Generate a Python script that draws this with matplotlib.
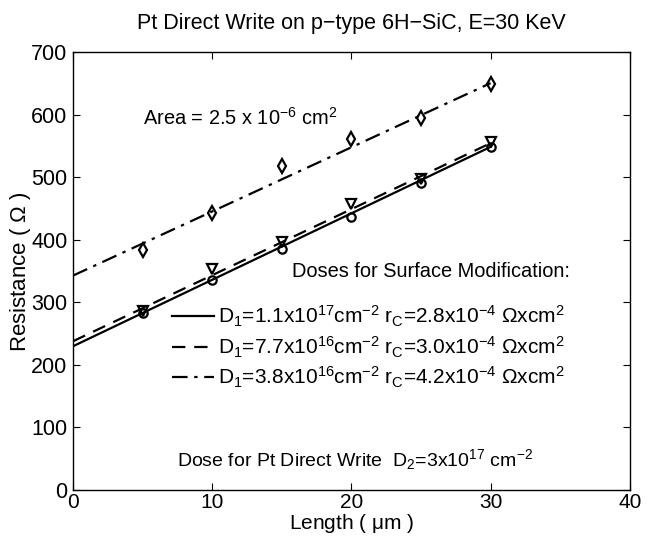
import matplotlib
matplotlib.use("Agg")
import matplotlib.pyplot as plt

# --- Data ---
LENGTH = [5, 10, 15, 20, 25, 30]
R_DOSE_HIGH = [283, 336, 386, 437, 491, 548]   # circles, D1=1.1e17
R_DOSE_MID = [286, 354, 397, 457, 498, 556]    # triangles, D1=7.7e16
R_DOSE_LOW = [384, 443, 518, 562, 595, 650]    # diamonds, D1=3.8e16

FIT_X = [0, 30]
FIT_HIGH = [230, 549]
FIT_MID = [238, 555]
FIT_LOW = [343, 651]

LABELS = [
    r"$\mathrm{D_1}$=1.1x10$^{17}$cm$^{-2}$ $\mathrm{r_C}$=2.8x10$^{-4}$ $\Omega$xcm$^2$",
    r"$\mathrm{D_1}$=7.7x10$^{16}$cm$^{-2}$ $\mathrm{r_C}$=3.0x10$^{-4}$ $\Omega$xcm$^2$",
    r"$\mathrm{D_1}$=3.8x10$^{16}$cm$^{-2}$ $\mathrm{r_C}$=4.2x10$^{-4}$ $\Omega$xcm$^2$",
]

plt.rcParams['font.family'] = ['Liberation Sans', 'DejaVu Sans']
plt.rcParams['mathtext.fontset'] = 'custom'
plt.rcParams['mathtext.rm'] = 'Liberation Sans'
plt.rcParams['mathtext.it'] = 'Liberation Sans:italic'
plt.rcParams['mathtext.default'] = 'regular'

fig = plt.figure(figsize=(6.48, 5.41), dpi=100)
ax = fig.add_axes([0.1127, 0.0943, 0.8593, 0.8087])

lw = 1.6
ax.plot(FIT_X, FIT_HIGH, color='black', linestyle='-', linewidth=lw, label=LABELS[0])
ax.plot(FIT_X, FIT_MID, color='black', linestyle=(0, (6, 4)), linewidth=lw, label=LABELS[1])
ax.plot(FIT_X, FIT_LOW, color='black', linestyle=(0, (7, 3, 1.5, 3)), linewidth=lw, label=LABELS[2])

ax.plot(LENGTH, R_DOSE_HIGH, linestyle='none', marker='o', markersize=6,
        markerfacecolor='none', markeredgecolor='black', markeredgewidth=1.6)
ax.plot(LENGTH, R_DOSE_MID, linestyle='none', marker='v', markersize=7,
        markerfacecolor='none', markeredgecolor='black', markeredgewidth=1.6)
ax.plot(LENGTH, R_DOSE_LOW, linestyle='none', marker='d', markersize=7,
        markerfacecolor='none', markeredgecolor='black', markeredgewidth=1.6)

ax.set_xlim(0, 40)
ax.set_ylim(0, 700)
ax.set_xticks(range(0, 41, 10))
ax.set_yticks(range(0, 701, 100))
ax.tick_params(direction='in', top=True, right=True, labelsize=15.5, length=5)
ax.tick_params(axis='x', pad=2, labelsize=15)
ax.tick_params(axis='y', pad=4)
for sp in ax.spines.values():
    sp.set_linewidth(1.0)

ax.set_title("Pt Direct Write on p\u2212type 6H\u2212SiC, E=30 KeV", fontsize=15.5, pad=17)
ax.set_xlabel(r"Length ( $\mu$m )", fontsize=15, labelpad=0)
ax.set_ylabel(r"Resistance ( $\Omega$ )", fontsize=16, labelpad=-1)

ax.text(5.0, 595, r"Area = 2.5 x 10$^{-6}$ cm$^2$", fontsize=14.4, va='center', ha='left')
ax.text(15.7, 350, "Doses for Surface Modification:", fontsize=14.4, va='center', ha='left')
ax.text(7.5, 48, r"Dose for Pt Direct Write  $\mathrm{D_2}$=3x10$^{17}$ cm$^{-2}$",
        fontsize=14, va='center', ha='left')

ax.legend(loc='upper left', bbox_to_anchor=(0.178, 0.425), frameon=False, fontsize=15,
          handlelength=2.0, handletextpad=0.2, labelspacing=0.25, borderpad=0,
          borderaxespad=0)

fig.savefig("out.png", dpi=100)
